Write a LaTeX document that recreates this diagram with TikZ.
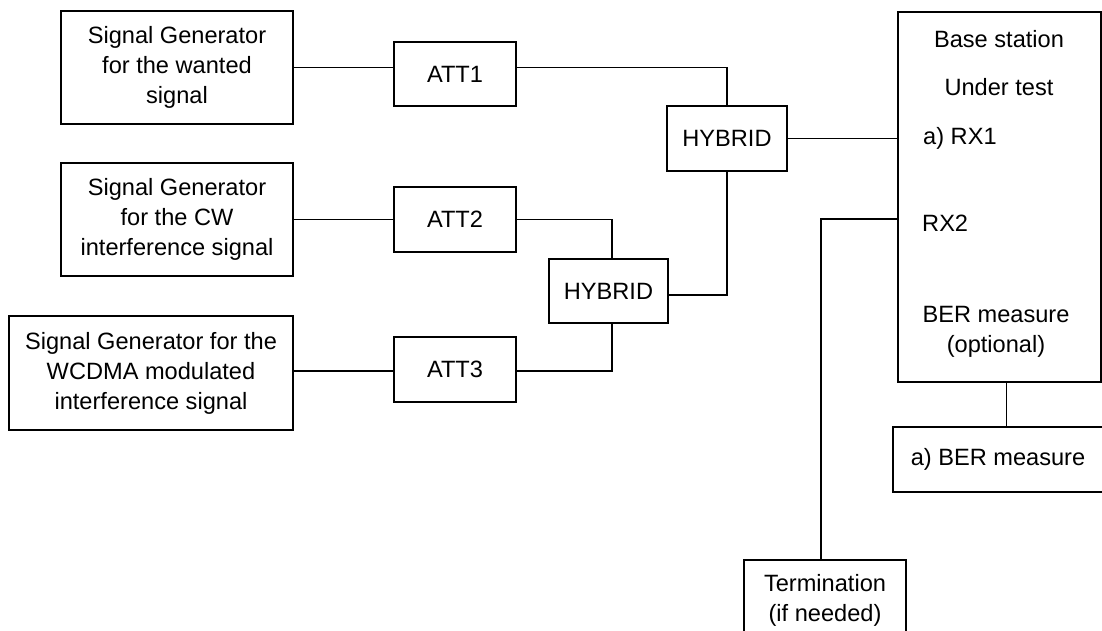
\documentclass[tikz,border=0pt]{standalone}
\usepackage{fontspec}
\setmainfont{Liberation Sans}
\usetikzlibrary{calc}
\begin{document}
\begin{tikzpicture}[x=1pt,y=-1pt,
  every node/.style={font=\fontsize{23.6}{30}\selectfont},
  box/.style={draw,line width=1.5pt,align=center,inner sep=0pt},
  wire/.style={line width=1.5pt},
  lbl/.style={inner sep=0pt}]
\clip (0,0) rectangle (1102,630);
\fill[white] (0,0) rectangle (1102,630);

% signal sources
\node[box,minimum width=232,minimum height=113] (sg1) at (177,67.5) {Signal Generator\\for the wanted\\signal};
\node[box,minimum width=232,minimum height=113] (sg2) at (177,219.5) {Signal Generator\\for the CW\\interference signal};
\node[box,minimum width=284,minimum height=114] (sg3) at (151,373) {Signal Generator for the\\WCDMA modulated\\interference signal};

% attenuators
\node[box,minimum width=122,minimum height=64] (att1) at (455,74) {ATT1};
\node[box,minimum width=122,minimum height=65] (att2) at (455,219.5) {ATT2};
\node[box,minimum width=122,minimum height=65] (att3) at (455,369.5) {ATT3};

% combiners
\node[box,minimum width=120,minimum height=65] (hyb1) at (727,138.5) {HYBRID};
\node[box,minimum width=119,minimum height=64] (hyb2) at (608.5,291) {HYBRID};

% base station under test
\node[box,minimum width=203,minimum height=370] (bs) at (999.5,197) {};
\node[lbl] (bsa) at (999,39) {Base station};
\node[lbl] (bsb) at (999,87) {Under test};
\node[lbl,anchor=west] (rx1) at (923,138) {a) RX1};
\node[lbl,anchor=west] (rx2t) at (922,223) {RX2};
\node[lbl,align=center] (berin) at (996,331.5) {BER measure\\(optional)};

% external equipment
\node[box,minimum width=210,minimum height=65] (ber) at (998,459.5) {a) BER measure};
\node[box,minimum width=162,minimum height=80] (term) at (825,600) {Termination\\(if needed)};

% connections
\draw[wire] (sg1.east) -- (sg1.east -| att1.west);
\draw[wire] (att1.east |- sg1.east) -| (hyb1.north);
\draw[wire] (sg2.east) -- (att2.west);
\draw[wire] (att2.east) -| ($(hyb2.north)+(3.5,0)$);
\draw[wire] (sg3.east) ++(0,-2) coordinate (s3) -- (s3 -| att3.west);
\draw[wire] (att3.east |- s3) -| ($(hyb2.south)+(3.5,0)$);
\draw[wire] ($(hyb2.east)+(0,4)$) -| (hyb1.south);
\draw[wire] (hyb1.east) -- (hyb1.east -| bs.west);
\draw[wire] ($(bs.west)+(0,22)$) coordinate (rx2) -| ($(term.north)+(-4,0)$);
\draw[wire] ($(bs.south)+(7,0)$) coordinate (bsq) -- (bsq |- ber.north);
\end{tikzpicture}
\end{document}
